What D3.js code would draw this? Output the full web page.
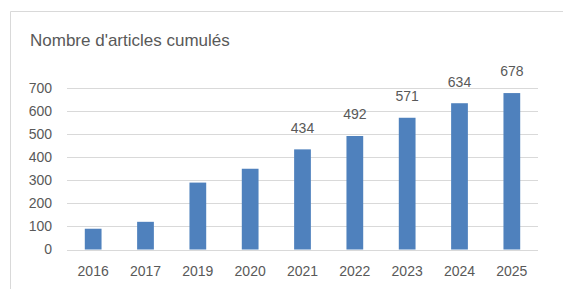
<!DOCTYPE html>
<html lang="en">
<head>
    <meta charset="utf-8">
    <script src="https://d3js.org/d3.v7.min.js"></script>
    <style>
        body { margin: 0; background: #fff; }
        text { font-family: "Liberation Sans", Arial, sans-serif; fill: #595959; }
    </style>
</head>
<body>
    <div id="graph"></div>
    <script>
        // data
        var years = ["2016", "2017", "2019", "2020", "2021", "2022", "2023", "2024", "2025"];
        var counts = [90, 120, 290, 350, 434, 492, 571, 634, 678];
        var labelled = [false, false, false, false, true, true, true, true, true];
        var yTicks = [0, 100, 200, 300, 400, 500, 600, 700];

        var width = 563,
            height = 289,
            margin = { top: 88, right: 25, bottom: 39.5, left: 67 };

        var svg = d3.select("#graph").append("svg")
            .attr("width", width)
            .attr("height", height);

        // chart frame
        svg.append("path")
            .attr("d", "M10.5," + height + "V11.5H" + width)
            .attr("fill", "none")
            .attr("stroke", "#d9d9d9")
            .attr("stroke-width", 1);

        svg.append("text")
            .attr("x", 30)
            .attr("y", 46)
            .style("font-size", "17px")
            .text("Nombre d'articles cumulés");

        var data = years.map((y, i) => ({ year: y, value: counts[i], label: labelled[i] }));

        var x = d3.scaleBand()
            .domain(years)
            .range([margin.left, width - margin.right])
            .paddingInner(0.68)
            .paddingOuter(0.34);

        var y = d3.scaleLinear()
            .domain([0, 700])
            .range([height - margin.bottom, margin.top]);

        // gridlines
        svg.append("g")
            .selectAll("line")
            .data(yTicks)
            .enter().append("line")
            .attr("x1", margin.left)
            .attr("x2", width - margin.right)
            .attr("y1", d => Math.round(y(d)) + 0.5)
            .attr("y2", d => Math.round(y(d)) + 0.5)
            .attr("stroke", "#d9d9d9")
            .attr("stroke-width", 1);

        // y tick labels
        svg.append("g")
            .selectAll("text")
            .data(yTicks)
            .enter().append("text")
            .attr("x", 52)
            .attr("y", d => y(d))
            .attr("dy", "0.35em")
            .attr("text-anchor", "end")
            .style("font-size", "14px")
            .text(d => d);

        // bars
        svg.append("g")
            .selectAll("rect")
            .data(data)
            .enter().append("rect")
            .attr("x", d => x(d.year))
            .attr("width", x.bandwidth())
            .attr("y", d => y(d.value))
            .attr("height", d => y(0) - y(d.value))
            .attr("fill", "#4f81bd");

        // x labels
        svg.append("g")
            .selectAll("text")
            .data(data)
            .enter().append("text")
            .attr("x", d => x(d.year) + x.bandwidth() / 2)
            .attr("y", 271)
            .attr("dy", "0.35em")
            .attr("text-anchor", "middle")
            .style("font-size", "14px")
            .text(d => d.year);

        // value labels on the last bars
        svg.append("g")
            .selectAll("text")
            .data(data.filter(d => d.label))
            .enter().append("text")
            .attr("x", d => x(d.year) + x.bandwidth() / 2)
            .attr("y", d => y(d.value) - 21.5)
            .attr("dy", "0.35em")
            .attr("text-anchor", "middle")
            .style("font-size", "14px")
            .text(d => d.value);
    </script>
</body>
</html>
